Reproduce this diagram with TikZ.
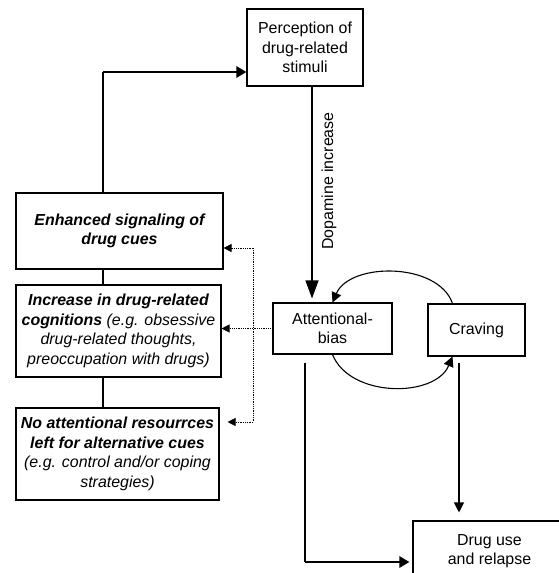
\documentclass[tikz,border=0pt]{standalone}
\usepackage{fontspec}
\setmainfont{Liberation Sans}
\usetikzlibrary{arrows.meta,calc}

\tikzset{
  box/.style={draw, line width=1.1bp, align=center, inner sep=0pt,
    font=\fontsize{16}{19.5}\selectfont},
  link/.style={line width=1.1bp},
  flow/.style={link, -{Triangle[length=10bp,width=10bp]}},
  bigflow/.style={link, -{Triangle[length=18bp,width=13bp]}},
  heavy/.style={line width=2.6bp, -{Triangle[length=10bp,width=11bp]}},
  dotline/.style={densely dotted, line width=0.8bp},
  cue/.style={dotline, -{Triangle[length=8bp,width=8bp]}},
}

\begin{document}
\begin{tikzpicture}[x=1bp, y=-1bp]

  \clip (0,0) rectangle (559,573);

  % --- boxes ---
  \node[box, minimum width=116bp, minimum height=77bp] (percept) at (305,47.5)
    {Perception of\\drug-related\\stimuli};
  \node[box, minimum width=207bp, minimum height=76bp] (enhanced) at (119.5,231)
    {\bfseries\itshape Enhanced signaling of\\\bfseries\itshape drug cues};
  \node[box, minimum width=205bp, minimum height=92bp] (increase) at (118.5,331)
    {\itshape\bfseries Increase in drug-related\\
     \itshape\textbf{cognitions} (e.g. obsessive\\
     \itshape drug-related thoughts,\\
     \itshape preoccupation with drugs)};
  \node[box, minimum width=203bp, minimum height=92bp] (noresource) at (117.5,454)
    {\itshape\bfseries No attentional resourrces\\
     \itshape\bfseries left for alternative cues\\
     \itshape (e.g. control and/or coping\\
     \itshape strategies)};
  \node[box, minimum width=119bp, minimum height=51bp] (attn) at (332.5,328.5)
    {Attentional-\\bias};
  \node[box, minimum width=97bp, minimum height=52bp] (craving) at (476.5,330)
    {Craving};
  \node[box, minimum width=153bp, minimum height=60bp] (druguse) at (489.5,551)
    {Drug use\\and relapse};

  % --- feedback to perception ---
  \coordinate (turn) at (103,72);
  \draw[link] (turn |- enhanced.north) -- (turn);
  \draw[heavy] (turn) -- (turn -| percept.west);

  % --- chain of consequences ---
  \draw[link] (turn |- enhanced.south) -- (turn |- increase.north);
  \draw[link] (turn |- increase.south) -- (turn |- noresource.north);

  % --- dopamine ---
  \coordinate (dopa) at ($(percept.south)+(7,0)$);
  \draw[bigflow, shorten >=4bp] (dopa) -- (dopa |- attn.north);
  \node[font=\fontsize{16}{19}\selectfont, rotate=90] (dopalabel) at (329,181)
    {Dopamine increase};

  % --- loop between bias and craving ---
  \draw[flow] ([xshift=-24bp]craving.north) .. controls (438,262) and (350,262) .. (attn.north);
  \draw[flow] (attn.south) .. controls (350,398) and (435,398) .. ([xshift=-24bp]craving.south);

  % --- dotted influences ---
  \coordinate (cuetop) at (253,248);
  \coordinate (cuebot) at (253,422);
  \draw[dotline] (cuetop) -- (cuebot);
  \draw[cue] (attn.west) -- (attn.west -| increase.east);
  \draw[cue] (cuetop) -- (cuetop -| enhanced.east);
  \draw[cue, shorten >=8bp] (cuebot) -- (cuebot -| noresource.east);

  % --- to drug use ---
  \coordinate (usecorner) at (305,562);
  \draw[link] ($(usecorner |- attn.south)+(0,8)$) -- (usecorner);
  \draw[heavy, shorten >=3bp] (usecorner) -- (usecorner -| druguse.west);
  \coordinate (drop) at ($(craving.south)+(-17.5,6)$);
  \draw[flow, shorten >=8bp] (drop) -- (drop |- druguse.north);

\end{tikzpicture}
\end{document}
